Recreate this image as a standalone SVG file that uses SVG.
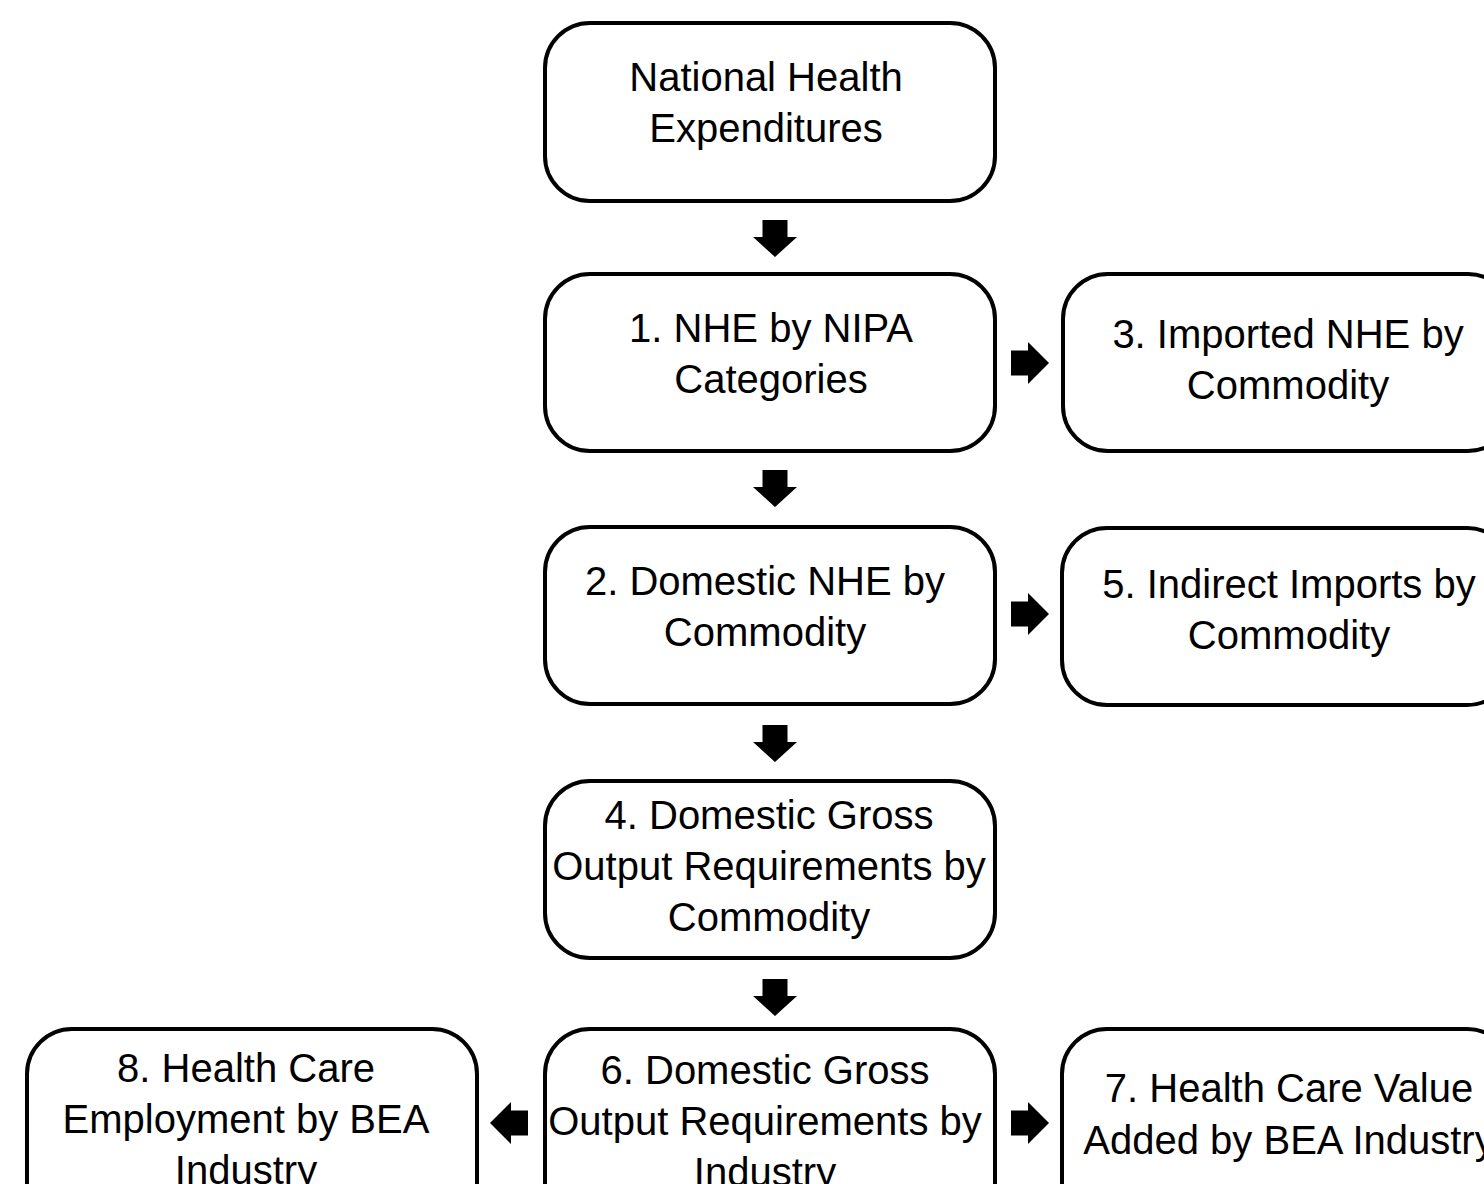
<svg xmlns="http://www.w3.org/2000/svg" width="1484" height="1184" viewBox="0 0 1484 1184">
<style>
.box{fill:#fff;stroke:#000;stroke-width:4}
.t{font-family:"Liberation Sans",Arial,sans-serif;font-size:40px;fill:#000;text-anchor:middle}
.arr{fill:#000}
</style>
<defs>
<path id="dn" d="M-12.5,-37 H12.5 V-20 H22 L0,0 L-22,-20 H-12.5 Z"/>
<path id="rt" d="M-38,-12.5 H-21 V-21 L0,0 L-21,21 V12.5 H-38 Z"/>
</defs>
<rect width="1484" height="1184" fill="#fff"/>
<g id="nhe">
<rect class="box" x="545" y="23" width="450" height="178" rx="45"/>
<text class="t" x="766" y="91">National Health</text>
<text class="t" x="766" y="142">Expenditures</text>
</g>
<g id="n1">
<rect class="box" x="545" y="274" width="450" height="177" rx="45"/>
<text class="t" x="771" y="342">1. NHE by NIPA</text>
<text class="t" x="771" y="393">Categories</text>
</g>
<g id="n2">
<rect class="box" x="545" y="527" width="450" height="177" rx="45"/>
<text class="t" x="765" y="595">2. Domestic NHE by</text>
<text class="t" x="765" y="646">Commodity</text>
</g>
<g id="n4">
<rect class="box" x="545" y="781" width="450" height="177" rx="45"/>
<text class="t" x="769" y="829">4. Domestic Gross</text>
<text class="t" x="769" y="880">Output Requirements by</text>
<text class="t" x="769" y="931">Commodity</text>
</g>
<g id="n6">
<rect class="box" x="545" y="1029" width="450" height="200" rx="45"/>
<text class="t" x="765" y="1084">6. Domestic Gross</text>
<text class="t" x="765" y="1135">Output Requirements by</text>
<text class="t" x="765" y="1186">Industry</text>
</g>
<g id="n3">
<rect class="box" x="1063" y="274" width="450" height="177" rx="45"/>
<text class="t" x="1288" y="348">3. Imported NHE by</text>
<text class="t" x="1288" y="399">Commodity</text>
</g>
<g id="n5">
<rect class="box" x="1062" y="528" width="450" height="177" rx="45"/>
<text class="t" x="1289" y="598">5. Indirect Imports by</text>
<text class="t" x="1289" y="649">Commodity</text>
</g>
<g id="n7">
<rect class="box" x="1062" y="1029" width="450" height="200" rx="45"/>
<text class="t" x="1289" y="1102">7. Health Care Value</text>
<text class="t" x="1289" y="1154">Added by BEA Industry</text>
</g>
<g id="n8">
<rect class="box" x="27" y="1029" width="450" height="200" rx="45"/>
<text class="t" x="246" y="1082">8. Health Care</text>
<text class="t" x="246" y="1133">Employment by BEA</text>
<text class="t" x="246" y="1184">Industry</text>
</g>
<g id="connectors" class="arr">
<use href="#dn" transform="translate(775,257)"/>
<use href="#dn" transform="translate(775,507)"/>
<use href="#dn" transform="translate(775,762)"/>
<use href="#dn" transform="translate(775,1016)"/>
<use href="#rt" transform="translate(1049,363)"/>
<use href="#rt" transform="translate(1049,614)"/>
<use href="#rt" transform="translate(1049,1123)"/>
<use href="#rt" transform="translate(490,1123) scale(-1,1)"/>
</g>
</svg>
